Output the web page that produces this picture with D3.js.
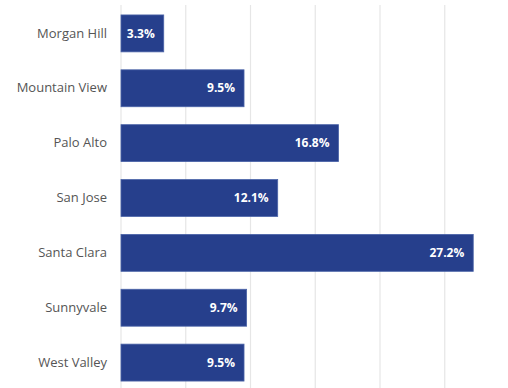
<!DOCTYPE html>
<html><head><meta charset="utf-8">
<script src="https://cdn.jsdelivr.net/npm/d3@7"></script>
<style>body{margin:0;background:#fff;}svg{display:block;font-family:"Open Sans",sans-serif;}</style>
</head><body>
<script>
const categories = ["Morgan Hill","Mountain View","Palo Alto","San Jose","Santa Clara","Sunnyvale","West Valley"];
const values = [3.3, 9.5, 16.8, 12.1, 27.2, 9.7, 9.5];
const tickValues = [0, 5, 10, 15, 20, 25, 30];

const W = 508, H = 388;
const m = {left: 121, top: 6};
const svg = d3.select("body").append("svg").attr("width", W).attr("height", H);
const x = d3.scaleLinear().domain([0, 30]).range([m.left, 509.5]);
const y = d3.scaleBand().domain(categories).range([m.top, 390]).paddingInner(0.327).paddingOuter(0.163);

svg.append("g").selectAll("line").data(tickValues).join("line")
  .attr("x1", d => x(d)).attr("x2", d => x(d))
  .attr("y1", 5).attr("y2", H)
  .attr("stroke", "#e6e6e6").attr("stroke-width", 1.2);

svg.append("g").selectAll("rect").data(values).join("rect")
  .attr("x", x(0)).attr("y", (d, i) => y(categories[i]))
  .attr("width", d => x(d) - x(0)).attr("height", y.bandwidth())
  .attr("fill", "#263f8c").attr("stroke", "#4b64a8").attr("stroke-width", 0.8);

svg.append("g").selectAll("text").data(values).join("text")
  .attr("x", d => x(d) - 9).attr("y", (d, i) => y(categories[i]) + y.bandwidth() / 2)
  .attr("dy", "0.35em").attr("text-anchor", "end")
  .attr("fill", "#fff").attr("font-weight", "bold").attr("font-size", "12px")
  .text(d => d.toFixed(1) + "%");

const yAxis = d3.axisLeft(y).tickSize(0).tickPadding(14);
const ga = svg.append("g").attr("transform", `translate(${m.left},0)`).call(yAxis);
ga.select(".domain").remove();
ga.selectAll("text").attr("font-size", "13px").attr("fill", "#555").attr("font-family", '"Open Sans",sans-serif');
</script>
</body></html>
